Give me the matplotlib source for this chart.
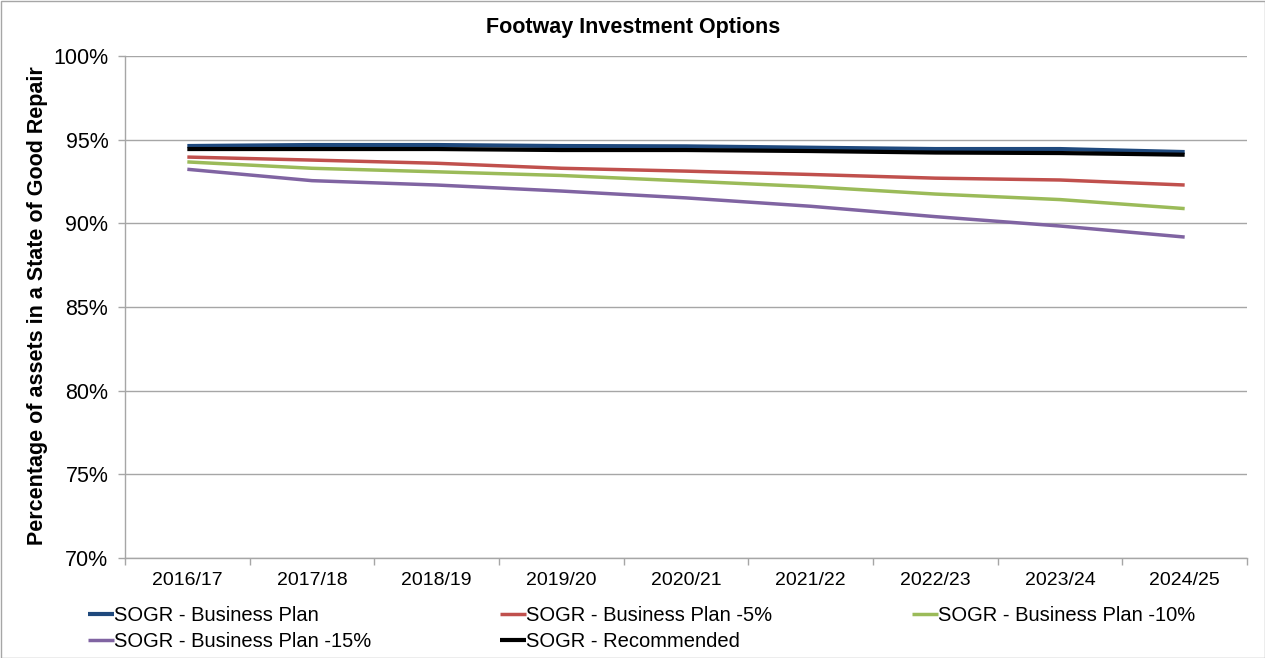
import matplotlib
matplotlib.use("Agg")
import matplotlib.pyplot as plt
from matplotlib.ticker import FuncFormatter, FixedLocator, NullFormatter
from matplotlib.patches import Rectangle

plt.rcParams['font.family'] = ['Liberation Sans', 'DejaVu Sans']

categories = ["2016/17", "2017/18", "2018/19", "2019/20", "2020/21",
              "2021/22", "2022/23", "2023/24", "2024/25"]
business_plan = [94.62, 94.68, 94.68, 94.62, 94.60, 94.52, 94.44, 94.44, 94.26]
business_plan_5 = [93.96, 93.78, 93.59, 93.29, 93.12, 92.92, 92.70, 92.59, 92.29]
business_plan_10 = [93.67, 93.29, 93.08, 92.86, 92.53, 92.19, 91.75, 91.42, 90.88]
business_plan_15 = [93.23, 92.55, 92.29, 91.93, 91.52, 91.02, 90.40, 89.84, 89.18]
recommended = [94.44, 94.44, 94.44, 94.38, 94.38, 94.32, 94.23, 94.20, 94.10]
series_names = ["SOGR - Business Plan", "SOGR - Business Plan -5%",
                "SOGR - Business Plan -10%", "SOGR - Business Plan -15%",
                "SOGR - Recommended"]
colors = ["#1F497D", "#C0504D", "#9BBB59", "#8064A2", "#000000"]

W, H = 1265, 658
fig = plt.figure(figsize=(W / 100, H / 100), dpi=100)
ax = fig.add_axes([125 / W, 1 - 558 / H, (1247 - 125) / W, (558 - 56) / H])

x = list(range(len(categories)))
data = [business_plan, business_plan_5, business_plan_10, business_plan_15, recommended]
handles = []
for vals, name, c in zip(data, series_names, colors):
    lw = 3.0 if c in ("#1F497D", "#000000") else 2.5
    h, = ax.plot(x, vals, color=c, lw=lw, label=name, solid_capstyle='butt', zorder=3)
    handles.append(h)

ax.set_xlim(-0.5, len(categories) - 0.5)
ax.set_ylim(70, 100)
ax.set_yticks([70, 75, 80, 85, 90, 95, 100])
ax.yaxis.set_major_formatter(FuncFormatter(lambda v, p: f"{v:.0f}%"))
ax.grid(axis='y', color='#A6A6A6', lw=1.0, zorder=0)
ax.set_xticks(x)
ax.set_xticklabels(categories)
ax.xaxis.set_minor_locator(FixedLocator([i - 0.5 for i in range(len(categories) + 1)]))
ax.xaxis.set_minor_formatter(NullFormatter())
ax.tick_params(axis='x', which='major', length=0, pad=10, labelsize=14)
ax.tick_params(axis='x', which='minor', length=5, color='#A6A6A6', width=1)
ax.tick_params(axis='y', length=5, color='#A6A6A6', width=1, labelsize=15.5, pad=7)
for s in ['top', 'right']:
    ax.spines[s].set_visible(False)
for s in ['left', 'bottom']:
    ax.spines[s].set_color('#A6A6A6')
    ax.spines[s].set_linewidth(1)

fig.text(633 / W, 1 - 27 / H, "Footway Investment Options", ha='center', va='center',
         fontsize=15.5, fontweight='bold')
fig.text(38 / W, 1 - 306 / H, "Percentage of assets in a State of Good Repair",
         rotation=90, ha='center', va='center', fontsize=15.5, fontweight='bold')

# legend columns
cols = [([handles[0], handles[3]], 88), ([handles[1], handles[4]], 500), ([handles[2]], 912)]
for hs, xpix in cols:
    fig.legend(handles=hs, labels=[h.get_label() for h in hs],
               loc='upper left', bbox_to_anchor=(xpix / W, 1 - 606 / H),
               frameon=False, fontsize=14.5, handlelength=1.3, handletextpad=0.0,
               labelspacing=0.35, borderaxespad=0, borderpad=0)

fig.patches.append(Rectangle((0.5 / W, 0.5 / H), 1 - 1 / W, 1 - 1 / H, transform=fig.transFigure,
                             fill=False, edgecolor='#A6A6A6', lw=1))

fig.savefig("out.png", dpi=100)
